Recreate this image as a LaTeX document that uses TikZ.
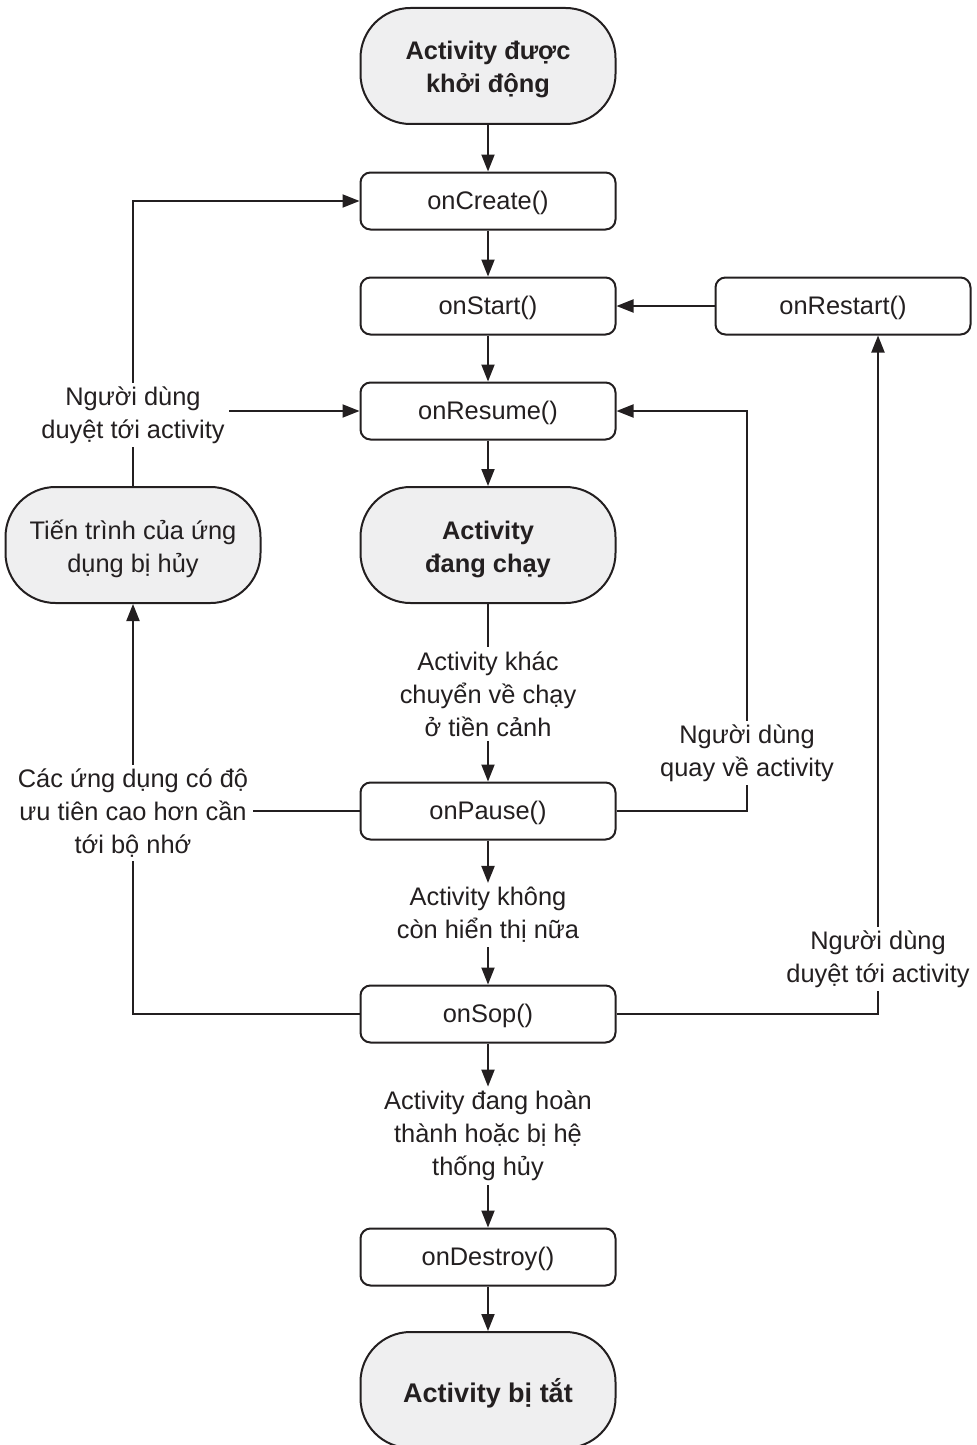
\documentclass[tikz,border=0pt]{standalone}
\usepackage{fontspec}
\setmainfont{Liberation Sans}
\usetikzlibrary{arrows.meta,backgrounds}
\definecolor{ink}{RGB}{35,31,32}
\definecolor{termfill}{RGB}{239,239,240}
\begin{document}
\begin{tikzpicture}[x=0.5pt,y=-0.5pt,
  every node/.style={font=\fontsize{12.7}{16.5}\selectfont, text=ink},
  method/.style={draw=ink, line width=1pt, fill=white, rounded corners=5pt,
    minimum width=127.5pt, minimum height=28.5pt, inner sep=0pt,
    text height=0.86em, text depth=0pt},
  terminal/.style={draw=ink, line width=1pt, fill=termfill, rounded corners=25pt,
    minimum width=127.5pt, minimum height=58pt},
  termtext/.style={align=center, inner sep=0pt},
  strong/.style={font=\fontsize{12.7}{16.5}\selectfont\bfseries},
  note/.style={fill=white, align=center, inner sep=2pt},
  flow/.style={draw=ink, line width=1pt, -{Triangle[length=8.5pt,width=6.5pt]}},
  link/.style={draw=ink, line width=1pt}]
\useasboundingbox (0,0) rectangle (977,1445);

% lifecycle states and callbacks
\node[terminal] (start) at (488,66) {};
\node[termtext, strong] (startText) at (488,69) {Activity được\\khởi động};
\node[method] (create) at (488,201) {onCreate()};
\node[method] (startm) at (488,306) {onStart()};
\node[method] (restart) at (843,306) {onRestart()};
\node[method] (resume) at (488,411) {onResume()};
\node[terminal] (running) at (488,545) {};
\node[termtext, strong] (runningText) at (488,549) {Activity\\đang chạy};
\node[terminal] (killed) at (133,545) {};
\node[termtext] (killedText) at (133,549) {Tiến trình của ứng\\dụng bị hủy};
\node[method] (pause) at (488,811) {onPause()};
\node[method] (stop) at (488,1014) {onSop()};
\node[method] (destroy) at (488,1257) {onDestroy()};
\node[terminal] (finish) at (488,1390) {};
\node[termtext, font=\fontsize{13.5}{16.5}\selectfont\bfseries] (finishText) at (488,1393) {Activity bị tắt};

% transition captions
\node[note] (lbNav) at (133,415) {Người dùng\\duyệt tới activity};
\node[note] (lbFg) at (488,694) {Activity khác\\chuyển về chạy\\ở tiền cảnh};
\node[note] (lbBack) at (747,753) {Người dùng\\quay về activity};
\node[note] (lbMem) at (133,813) {Các ứng dụng có độ\\ưu tiên cao hơn cần\\tới bộ nhớ};
\node[note] (lbHidden) at (488,915) {Activity không\\còn hiển thị nữa};
\node[note] (lbRenav) at (878,959) {Người dùng\\duyệt tới activity};
\node[note] (lbDone) at (488,1136) {Activity đang hoàn\\thành hoặc bị hệ\\thống hủy};

% transitions, kept behind the captions
\begin{scope}[on background layer]
\draw[flow] (start) -- (create);
\draw[flow] (create) -- (startm);
\draw[flow] (startm) -- (resume);
\draw[flow] (resume) -- (running);
\draw[link] (running) -- (lbFg);
\draw[flow] (lbFg) -- (pause);
\draw[flow] (pause) -- (lbHidden);
\draw[flow] (lbHidden) -- (stop);
\draw[flow] (stop) -- (lbDone);
\draw[flow] (lbDone) -- (destroy);
\draw[flow] (destroy) -- (finish);
\draw[flow] (restart) -- (startm);
\draw[flow] (pause.east) -| (lbBack.center) |- (resume.east);
\draw[flow] (stop.east) -| (lbRenav.center) -- (lbRenav.center |- restart.south);
\draw[flow] (stop.west) -| (killed.south);
\draw[link] (pause.west) -- (lbMem.east |- pause.west);
\draw[flow] (killed.north) |- (create.west);
\draw[flow] (lbNav.east |- resume.west) -- (resume.west);
\end{scope}
\end{tikzpicture}
\end{document}
